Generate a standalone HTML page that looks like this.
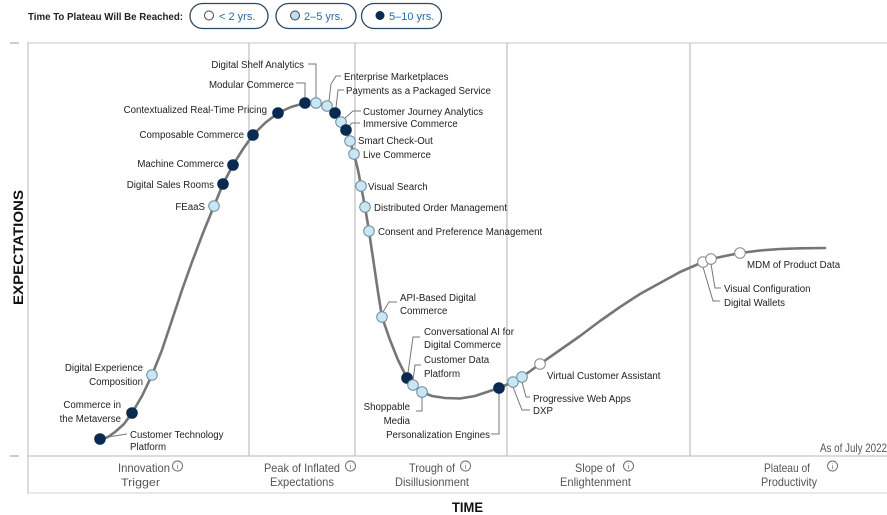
<!DOCTYPE html>
<html><head><meta charset="utf-8"><style>
html,body{margin:0;padding:0;background:#fff;}
svg{display:block;}
.l{font-family:"Liberation Sans",Arial,sans-serif;font-size:9.7px;fill:#222;}
.p{font-family:"Liberation Sans Narrow","Liberation Sans",sans-serif;font-size:12px;fill:#555;}
.ld{fill:none;stroke:#777;stroke-width:1;}
.n{fill:#0b2a52;stroke:#0b2a52;stroke-width:1;}
.b{fill:#c8e6f4;stroke:#6f8d9c;stroke-width:1;}
.w{fill:#fff;stroke:#888;stroke-width:1;}
</style></head><body>
<svg width="887" height="515" viewBox="0 0 887 515" xmlns="http://www.w3.org/2000/svg">
<!-- legend -->
<text x="28" y="20" font-family="Liberation Sans,Arial,sans-serif" font-size="10.5" font-weight="bold" fill="#222" textLength="155" lengthAdjust="spacingAndGlyphs">Time To Plateau Will Be Reached:</text>
<rect x="190" y="3.5" width="78" height="25" rx="12.5" fill="#fff" stroke="#2c4a63" stroke-width="1.3"/>
<circle cx="209" cy="15.5" r="4.5" fill="#fff" stroke="#444" stroke-width="1"/>
<text x="219" y="20" font-family="Liberation Sans,Arial,sans-serif" font-size="11" fill="#2a6aa8">&lt; 2 yrs.</text>
<rect x="276" y="3.5" width="80" height="25" rx="12.5" fill="#fff" stroke="#2c4a63" stroke-width="1.3"/>
<circle cx="295" cy="15.5" r="4.5" fill="#b9dff2" stroke="#444" stroke-width="1"/>
<text x="304" y="20" font-family="Liberation Sans,Arial,sans-serif" font-size="11" fill="#2a6aa8">2–5 yrs.</text>
<rect x="361.5" y="3.5" width="80" height="25" rx="12.5" fill="#fff" stroke="#2c4a63" stroke-width="1.3"/>
<circle cx="380" cy="15.5" r="4.5" fill="#0b2a52"/>
<text x="389" y="20" font-family="Liberation Sans,Arial,sans-serif" font-size="11" fill="#2a6aa8">5–10 yrs.</text>

<!-- frame -->
<line x1="28" y1="43" x2="887" y2="43" stroke="#e2e2e2" stroke-width="2"/>
<line x1="28" y1="42" x2="28" y2="494" stroke="#c4c4c4" stroke-width="1.2"/>
<line x1="28" y1="456" x2="887" y2="456" stroke="#c8c8c8" stroke-width="1.2"/>
<line x1="28" y1="493" x2="887" y2="493" stroke="#e2e2e2" stroke-width="1.5"/>
<line x1="10" y1="43" x2="19" y2="43" stroke="#999" stroke-width="1"/>
<line x1="10" y1="456" x2="19" y2="456" stroke="#999" stroke-width="1"/>
<g stroke="#bdbdbd" stroke-width="1.2">
<line x1="249" y1="43" x2="249" y2="456"/>
<line x1="355" y1="43" x2="355" y2="456"/>
<line x1="507" y1="43" x2="507" y2="456"/>
<line x1="690" y1="43" x2="690" y2="456"/>
</g>

<!-- axis titles -->
<text x="0" y="0" transform="translate(23,305) rotate(-90)" font-family="Liberation Sans,Arial,sans-serif" font-size="14" font-weight="bold" fill="#111" textLength="115" lengthAdjust="spacingAndGlyphs">EXPECTATIONS</text>
<text x="452" y="512" font-family="Liberation Sans,Arial,sans-serif" font-size="14" font-weight="bold" fill="#111" textLength="31" lengthAdjust="spacingAndGlyphs">TIME</text>
<text x="820" y="452" class="p" font-size="10.5" fill="#777" textLength="67" lengthAdjust="spacingAndGlyphs">As of July 2022</text>

<!-- phase labels -->
<g class="p">
<text x="118" y="472" textLength="52" lengthAdjust="spacingAndGlyphs">Innovation</text>
<text x="121" y="486" font-size="11" textLength="39" lengthAdjust="spacingAndGlyphs">Trigger</text>
<text x="264" y="472" textLength="76" lengthAdjust="spacingAndGlyphs">Peak of Inflated</text>
<text x="270" y="486" textLength="64" lengthAdjust="spacingAndGlyphs">Expectations</text>
<text x="409" y="472" textLength="46" lengthAdjust="spacingAndGlyphs">Trough of</text>
<text x="395" y="486" textLength="74" lengthAdjust="spacingAndGlyphs">Disillusionment</text>
<text x="575" y="472" textLength="40" lengthAdjust="spacingAndGlyphs">Slope of</text>
<text x="560" y="486" textLength="71" lengthAdjust="spacingAndGlyphs">Enlightenment</text>
<text x="764" y="472" textLength="46" lengthAdjust="spacingAndGlyphs">Plateau of</text>
<text x="761" y="486" textLength="56" lengthAdjust="spacingAndGlyphs">Productivity</text>
</g>
<g fill="none" stroke="#666" stroke-width="0.9">
<circle cx="177.5" cy="466" r="5"/><circle cx="350.5" cy="466" r="5"/><circle cx="465.5" cy="466" r="5"/><circle cx="628.5" cy="466" r="5"/><circle cx="832.5" cy="466" r="5"/>
</g>
<g font-family="Liberation Sans,Arial,sans-serif" font-size="7" fill="#666" text-anchor="middle">
<text x="177.5" y="469">i</text><text x="350.5" y="469">i</text><text x="465.5" y="469">i</text><text x="628.5" y="469">i</text><text x="832.5" y="469">i</text>
</g>

<!-- curve -->
<polyline fill="none" stroke="#767676" stroke-width="2.6" stroke-linejoin="round" stroke-linecap="round" points="100,440 108,437 115,432 124,424 132,413 142,396 152,375 162,350 172,320 182,290 192,262 203,233 214,206 223,184 233,165 243,149 253,135 265,123 278,113 291,107 305,103 316,103 327,106 335,113 341,122 346,130 350,141 354,154 358,170 361,186 365,207 369,231 374,265 378,292 382,317 390,340 398,360 407,378 413,385 422,392 432,396 445,398 460,398.5 475,396 490,391 499,388 513,382 522,377 540,364 560,350 580,336 600,321 620,307 640,294 660,283 680,272 703,262 711,259 725,256 740,253 760,250.5 780,249 800,248.3 825,248"/>

<!-- leaders -->
<polyline class="ld" points="108,437 127,434"/>
<polyline class="ld" points="296,83 305,83 305,98"/>
<polyline class="ld" points="308,64 316,64 316,98"/>
<polyline class="ld" points="341,76 336,76 331,84 329,101"/>
<polyline class="ld" points="344,90 338,90 336,108"/>
<polyline class="ld" points="361,111 353,111 344,119"/>
<polyline class="ld" points="360,123 352,123 348,127"/>
<polyline class="ld" points="397,302 389,302 383,312"/>
<polyline class="ld" points="420,337 413,337 408,373"/>
<polyline class="ld" points="421,365 415,365 413,380"/>
<polyline class="ld" points="422,397 422,411 416,411"/>
<polyline class="ld" points="491,434 499,434 499,393"/>
<polyline class="ld" points="513,387 522,410 530,410"/>
<polyline class="ld" points="522,382 526,397 530,397"/>
<polyline class="ld" points="703,267 713,301 720,301"/>
<polyline class="ld" points="711,264 715,288 721,288"/>

<!-- dots -->
<circle class="n" cx="100" cy="439" r="5.3"/>
<circle class="n" cx="132" cy="413" r="5.3"/>
<circle class="b" cx="152" cy="375" r="5.3"/>
<circle class="b" cx="214" cy="206" r="5.3"/>
<circle class="n" cx="223" cy="184" r="5.3"/>
<circle class="n" cx="233" cy="165" r="5.3"/>
<circle class="n" cx="253" cy="135" r="5.3"/>
<circle class="n" cx="278" cy="113" r="5.3"/>
<circle class="n" cx="305" cy="103" r="5.3"/>
<circle class="b" cx="316" cy="103" r="5.3"/>
<circle class="b" cx="327" cy="106" r="5.3"/>
<circle class="n" cx="335" cy="113" r="5.3"/>
<circle class="b" cx="341" cy="122" r="5.3"/>
<circle class="n" cx="346" cy="130" r="5.3"/>
<circle class="b" cx="350" cy="141" r="5.3"/>
<circle class="b" cx="354" cy="154" r="5.3"/>
<circle class="b" cx="361" cy="186" r="5.3"/>
<circle class="b" cx="365" cy="207" r="5.3"/>
<circle class="b" cx="369" cy="231" r="5.3"/>
<circle class="b" cx="382" cy="317" r="5.3"/>
<circle class="n" cx="407" cy="378" r="5.3"/>
<circle class="b" cx="413" cy="385" r="5.3"/>
<circle class="b" cx="422" cy="392" r="5.3"/>
<circle class="n" cx="499" cy="388" r="5.3"/>
<circle class="b" cx="513" cy="382" r="5.3"/>
<circle class="b" cx="522" cy="377" r="5.3"/>
<circle class="w" cx="540" cy="364" r="5.3"/>
<circle class="w" cx="703" cy="262" r="5.3"/>
<circle class="w" cx="711" cy="259" r="5.3"/>
<circle class="w" cx="740" cy="253" r="5.3"/>

<!-- labels -->
<g class="l">
<text x="130" y="438">Customer Technology</text>
<text x="130" y="450">Platform</text>
<text x="121" y="408" text-anchor="end">Commerce in</text>
<text x="121" y="422" text-anchor="end">the Metaverse</text>
<text x="143" y="371" text-anchor="end">Digital Experience</text>
<text x="143" y="385" text-anchor="end">Composition</text>
<text x="205" y="210" text-anchor="end">FEaaS</text>
<text x="214" y="188" text-anchor="end">Digital Sales Rooms</text>
<text x="224" y="167" text-anchor="end">Machine Commerce</text>
<text x="244" y="138" text-anchor="end">Composable Commerce</text>
<text x="267" y="113" text-anchor="end">Contextualized Real-Time Pricing</text>
<text x="294" y="88" text-anchor="end">Modular Commerce</text>
<text x="304" y="68" text-anchor="end">Digital Shelf Analytics</text>
<text x="344" y="80">Enterprise Marketplaces</text>
<text x="346" y="94">Payments as a Packaged Service</text>
<text x="363" y="115">Customer Journey Analytics</text>
<text x="363" y="127">Immersive Commerce</text>
<text x="358" y="144">Smart Check-Out</text>
<text x="363" y="158">Live Commerce</text>
<text x="368" y="190">Visual Search</text>
<text x="374" y="211">Distributed Order Management</text>
<text x="378" y="235">Consent and Preference Management</text>
<text x="400" y="301">API-Based Digital</text>
<text x="400" y="314">Commerce</text>
<text x="424" y="335">Conversational AI for</text>
<text x="424" y="348">Digital Commerce</text>
<text x="424" y="363">Customer Data</text>
<text x="424" y="377">Platform</text>
<text x="410" y="410" text-anchor="end">Shoppable</text>
<text x="410" y="424" text-anchor="end">Media</text>
<text x="490" y="438" text-anchor="end">Personalization Engines</text>
<text x="533" y="414">DXP</text>
<text x="533" y="402">Progressive Web Apps</text>
<text x="547" y="379">Virtual Customer Assistant</text>
<text x="724" y="306">Digital Wallets</text>
<text x="724" y="292">Visual Configuration</text>
<text x="747" y="268">MDM of Product Data</text>
</g>
</svg>
</body></html>
